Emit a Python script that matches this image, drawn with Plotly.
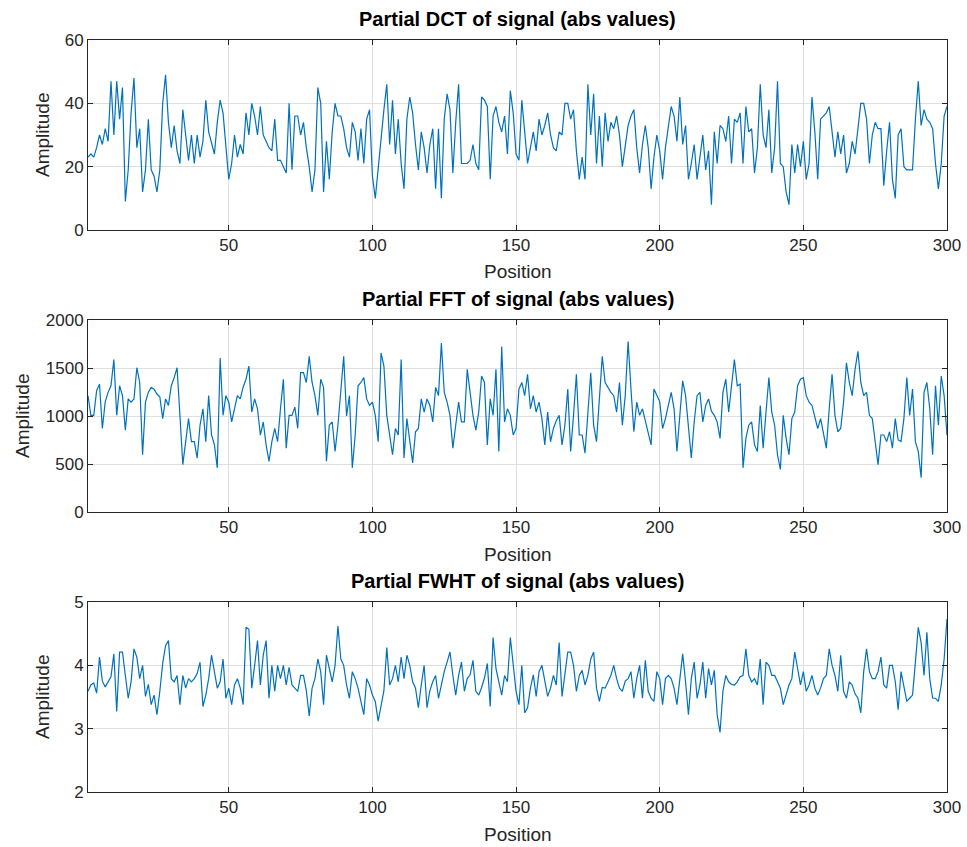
import plotly.graph_objects as go

positions = list(range(1, 301))

dct_values = [
    23, 24, 23, 26, 30, 27, 32, 28, 47, 30, 47, 35, 45, 9, 19, 37, 48, 26, 32, 12,
    19, 35, 19, 17, 12, 19, 40, 49, 34, 26, 33, 25, 21, 38, 30, 22, 30, 21, 30, 23,
    28, 41, 31, 27, 24, 34, 41, 37, 26, 16, 21, 30, 23, 27, 24, 37, 30, 40, 36, 30,
    39, 30, 28, 26, 25, 35, 22, 22, 20, 18, 40, 19, 36, 36, 30,
    34, 26, 20, 12, 19, 45, 40, 12, 28, 16, 31, 40, 36, 36, 32, 26, 23, 34, 31, 22,
    32, 21, 35, 38, 17, 10, 20, 28, 38, 46, 27, 41, 24, 35, 21, 13, 35, 42, 37, 27,
    19, 31, 26, 18, 27, 32, 13, 32, 10, 35, 43, 38, 18, 34, 46, 21, 21, 21, 22, 27,
    21, 19, 42, 41, 39, 16, 36, 39, 34, 31, 36, 24, 44, 37, 24, 22,
    41, 30, 21, 26, 31, 25, 35, 30, 33, 37, 30, 26, 25, 31, 30, 40, 40, 35, 38, 25,
    16, 23, 16, 46, 30, 43, 21, 36, 20, 37, 28, 34, 32, 36, 30, 20, 27, 33, 36, 38,
    26, 18, 27, 33, 26, 13, 23, 30, 25, 16, 26, 33, 39, 36, 28, 42, 27, 33, 16, 21,
    27, 16, 23, 30, 19, 25, 8, 31, 21, 33, 32, 28, 36, 21, 35,
    34, 37, 21, 39, 31, 32, 18, 26, 46, 30, 26, 38, 18, 26, 47, 21, 20, 12, 8, 27,
    18, 27, 20, 28, 16, 21, 42, 31, 16, 35, 36, 37, 39, 30, 23, 31, 24, 30, 18, 21,
    28, 24, 32, 40, 40, 35, 21, 30, 34, 32, 32, 14, 25, 34, 16, 10, 30, 32, 20, 19,
    19, 19, 35, 47, 33, 38, 35, 34, 32, 21, 13, 21, 36, 39,
]

fft_values = [
    1212, 1007, 1007, 1263, 1332, 870, 1150, 1246, 1315, 1588, 1007, 1315, 1212, 853, 1178, 1144, 1178, 1503, 1349, 596,
    1144, 1246, 1298, 1280, 1229, 1200, 973, 1178, 1110, 1315, 1400, 1503, 1007, 494, 733, 973, 733, 733, 562, 904,
    1075, 733, 1212, 802, 700, 460, 1605, 1007, 1212, 1144, 938, 1075, 1212, 1178, 1300, 1383, 1520, 1041, 1178, 1075,
    802, 938, 700, 528, 733, 870, 733, 1075, 1383, 665, 1007, 1007, 1092, 870, 1451,
    1451, 1349, 1622, 1349, 1212, 1007, 1383, 1298, 528, 904, 938, 631, 904, 1300, 1622, 1000, 1212, 460, 802, 1315,
    1349, 1400, 1178, 1110, 1144, 1007, 733, 1657, 1520, 1007, 802, 596, 870, 802, 1588, 562, 973, 733, 511, 836,
    870, 1178, 1041, 1178, 1110, 938, 1298, 1212, 1760, 1246, 1144, 1007, 665, 904, 1144, 938, 938, 1486, 1212, 1007,
    853, 1041, 1417, 1349, 699, 1178, 1007, 1486, 631, 1725, 938, 1075, 1007, 802, 870, 1280,
    1350, 1212, 1434, 1075, 1212, 1041, 1144, 973, 699, 1041, 733, 870, 950, 1007, 699, 904, 1280, 631, 1007, 1434,
    802, 802, 614, 1007, 1451, 904, 733, 1178, 1622, 1349, 1298, 1246, 1212, 1041, 1349, 904, 1212, 1776, 1280, 836,
    1144, 1007, 1075, 938, 836, 699, 1280, 1212, 1150, 870, 973, 1110, 1246, 1075, 631, 1007, 1366, 1212, 904, 562,
    938, 1212, 1246, 938, 1110, 1178, 1050, 1007, 938, 767, 1246, 1383, 1041, 1300, 1588,
    1315, 1332, 460, 767, 904, 938, 699, 631, 1110, 665, 1041, 1400, 1041, 904, 596, 443, 1007, 767, 596, 973,
    1041, 1315, 1383, 1400, 1212, 1144, 1110, 973, 870, 973, 836, 665, 1075, 1434, 1007, 836, 870, 1144, 1554, 1349,
    1212, 1486, 1674, 1349, 1212, 1246, 1007, 973, 733, 494, 802, 802, 733, 836, 665, 973, 750, 733, 973, 1400,
    1007, 1280, 733, 631, 357, 1246, 1349, 1075, 596, 1315, 904, 1417, 1212, 800,
]

fwht_values = [
    3.59, 3.69, 3.72, 3.56, 4.13, 3.75, 3.66, 3.74, 3.82, 4.18, 3.27, 4.21, 4.21, 3.84, 3.48, 3.74, 4.26, 4.13, 3.79, 4.0,
    3.51, 3.70, 3.38, 3.53, 3.22, 3.59, 4.03, 4.31, 4.39, 3.79, 3.74, 3.84, 3.38, 3.84, 3.64, 3.79, 3.74, 3.79, 3.87, 4.05,
    3.35, 3.53, 3.79, 4.16, 3.90, 3.64, 3.74, 4.10, 3.48, 3.64, 3.38, 3.69, 3.79, 3.64, 3.38, 4.60, 4.57, 3.64, 4.0, 4.39,
    3.69, 4.16, 4.39, 3.48, 4.0, 3.59, 4.0, 3.79, 4.0, 3.69, 3.97, 3.69, 3.64, 3.59, 3.84,
    3.84, 3.60, 3.20, 3.64, 3.79, 4.10, 3.90, 3.38, 4.16, 3.95, 3.74, 4.0, 4.62, 4.10, 4.0, 3.69, 3.48, 3.90, 3.79, 3.64,
    3.45, 3.22, 3.79, 3.69, 3.53, 3.43, 3.12, 3.38, 3.60, 4.28, 3.69, 3.79, 4.0, 3.74, 4.13, 3.79, 4.16, 4.0, 3.74, 3.64,
    3.33, 3.69, 4.0, 3.33, 3.60, 3.74, 3.84, 3.48, 3.69, 3.90, 4.05, 4.21, 3.84, 3.53, 3.84, 4.05, 3.59, 3.79, 3.85, 4.08,
    3.59, 3.53, 3.65, 3.80, 4.03, 3.35, 4.44, 3.95, 3.74, 3.53, 3.84, 3.74, 4.44, 4.0, 3.59, 3.38,
    4.0, 3.25, 3.33, 3.64, 3.85, 3.51, 3.90, 4.0, 3.74, 3.51, 3.64, 3.84, 3.69, 4.36, 3.51, 3.84, 4.21, 4.21, 4.0, 3.59,
    3.84, 3.92, 3.69, 3.84, 4.10, 4.21, 3.64, 3.43, 3.65, 3.64, 3.75, 3.84, 4.0, 3.79, 3.64, 3.59, 3.75, 3.79, 3.90, 3.48,
    3.79, 4.0, 3.48, 4.08, 3.59, 3.48, 3.43, 3.90, 3.79, 3.38, 3.79, 3.84, 3.79, 3.64, 3.38, 3.84, 4.18, 3.74, 3.22, 3.79,
    4.05, 3.48, 3.69, 4.05, 3.48, 3.95, 3.69, 3.92, 3.22, 2.94, 3.59, 3.84, 3.74, 3.70, 3.69,
    3.74, 3.82, 3.84, 4.26, 3.84, 3.74, 3.79, 3.69, 4.10, 3.38, 4.05, 4.0, 3.84, 3.84, 3.74, 3.64, 3.38, 3.53, 3.69, 3.79,
    4.21, 3.95, 3.69, 3.90, 3.59, 3.69, 3.84, 3.64, 3.53, 3.64, 3.79, 3.84, 4.26, 4.0, 3.84, 3.59, 4.16, 3.59, 3.48, 3.74,
    3.69, 3.55, 3.48, 3.25, 3.90, 4.26, 3.90, 3.79, 3.79, 3.90, 4.13, 3.69, 3.64, 4.0, 4.0, 3.74, 3.30, 3.90, 3.69, 3.43,
    3.48, 3.53, 4.05, 4.60, 4.36, 3.84, 4.52, 3.79, 3.48, 3.48, 3.43, 3.69, 4.10, 4.73,
]

titles = ["Partial DCT of signal (abs values)", "Partial FFT of signal (abs values)",
          "Partial FWHT of signal (abs values)"]
x_ticks = [50, 100, 150, 200, 250, 300]
y_ranges = [[0, 60], [0, 2000], [2, 5]]
y_dticks = [20, 500, 1]
series = [dct_values, fft_values, fwht_values]

W, H = 967, 847
x_left, x_right = 88, 947
rows_px = [(40, 230), (320, 512), (602, 792)]
ylabel_x = [42, 22, 42]

line_color = "#0072BD"
axis_color = "#262626"
grid_color = "#DFDFDF"
font_family = "Liberation Sans, Arial, sans-serif"

fig = go.Figure()
annotations = []
for i, (vals, (top, bot)) in enumerate(zip(series, rows_px)):
    n = "" if i == 0 else str(i + 1)
    fig.add_trace(go.Scatter(x=positions, y=vals, mode="lines",
                             line=dict(color=line_color, width=1.2),
                             xaxis="x" + n, yaxis="y" + n, showlegend=False,
                             hoverinfo="skip"))
    common = dict(showline=True, linecolor=axis_color, linewidth=1, mirror="ticks",
                  ticks="inside", ticklen=5, tickcolor=axis_color,
                  showgrid=True, gridcolor=grid_color, gridwidth=1, zeroline=False,
                  tickfont=dict(family=font_family, size=17, color=axis_color),
                  automargin=False)
    fig.update_layout(**{
        "xaxis" + n: dict(domain=[x_left / W, x_right / W], range=[1, 300],
                          tickvals=x_ticks, anchor="y" + n, **common),
        "yaxis" + n: dict(domain=[1 - bot / H, 1 - top / H], range=y_ranges[i],
                          dtick=y_dticks[i], anchor="x" + n, **common),
    })
    annotations.append(dict(text="<b>" + titles[i] + "</b>", x=(x_left + x_right) / 2 / W,
                            y=1 - (top - 21) / H, xref="paper", yref="paper",
                            showarrow=False, xanchor="center", yanchor="middle",
                            font=dict(family=font_family, size=20, color="#000000")))
    annotations.append(dict(text="Position", x=(x_left + x_right) / 2 / W,
                            y=1 - (bot + 42) / H, xref="paper", yref="paper",
                            showarrow=False, xanchor="center", yanchor="middle",
                            font=dict(family=font_family, size=19, color=axis_color)))
    annotations.append(dict(text="Amplitude", x=ylabel_x[i] / W,
                            y=1 - (top + bot) / 2 / H, xref="paper", yref="paper",
                            showarrow=False, xanchor="center", yanchor="middle",
                            textangle=-90,
                            font=dict(family=font_family, size=19, color=axis_color)))

fig.update_layout(width=W, height=H, margin=dict(l=0, r=0, t=0, b=0),
                  paper_bgcolor="white", plot_bgcolor="white",
                  annotations=annotations)

fig.write_html("out.html")
